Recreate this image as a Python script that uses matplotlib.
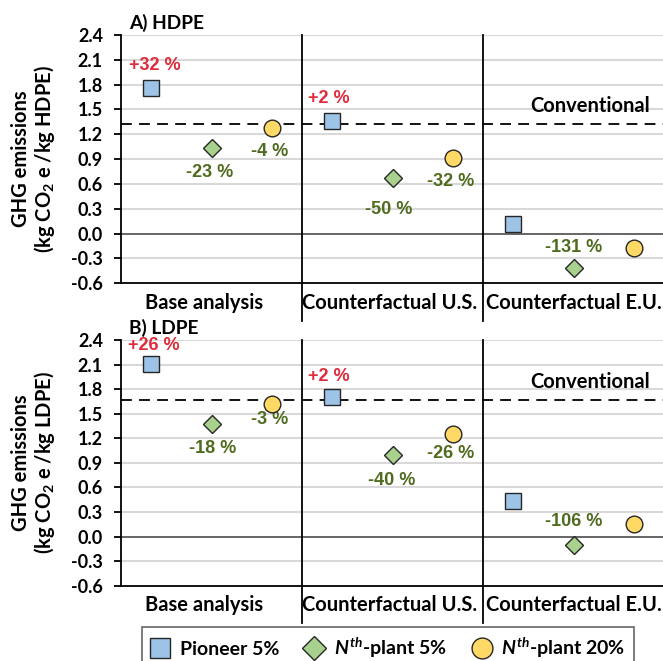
import matplotlib
matplotlib.use('Agg')
import matplotlib.pyplot as plt
from matplotlib.lines import Line2D

# --- données ---
scenarios = ['Base analysis', 'Counterfactual U.S.', 'Counterfactual E.U.']
series_names = ['Pioneer 5%', r'$\mathit{N}^{\mathit{th}}$-plant 5%', r'$\mathit{N}^{\mathit{th}}$-plant 20%']

hdpe_conv = 1.33
hdpe_pioneer = [1.76, 1.36, 0.12]
hdpe_nth5 = [1.03, 0.67, -0.41]
hdpe_nth20 = [1.28, 0.91, -0.17]
hdpe_pct = [['+32 %', '-23 %', '-4 %'],
            ['+2 %', '-50 %', '-32 %'],
            ['', '-131 %', '']]

ldpe_conv = 1.67
ldpe_pioneer = [2.11, 1.70, 0.44]
ldpe_nth5 = [1.37, 1.00, -0.10]
ldpe_nth20 = [1.62, 1.25, 0.15]
ldpe_pct = [['+26 %', '-18 %', '-3 %'],
            ['+2 %', '-40 %', '-26 %'],
            ['', '-106 %', '']]

yticks = [-0.6, -0.3, 0.0, 0.3, 0.6, 0.9, 1.2, 1.5, 1.8, 2.1, 2.4]

# --- style ---
plt.rcParams['mathtext.fontset'] = 'custom'
plt.rcParams['mathtext.rm'] = 'Lato:bold'
plt.rcParams['mathtext.it'] = 'Lato:bold:italic'
plt.rcParams['mathtext.default'] = 'rm'

LABEL_FONT = 'Lato'
NUM_FONT = 'Liberation Sans'
RED = '#E02B3C'
GREEN = '#4F6B1E'
markers = [('s', '#9DC3E6', 11), ('D', '#A9D18E', 9), ('o', '#FFD966', 12)]

# décalages des étiquettes (px) par panneau : [scénario][série] -> (dx, dy vers le bas)
hdpe_off = [[(4, -22), (-2, 24), (-2, 24)],
            [(-3, -23), (-4, 31), (-2, 23)],
            [(0, 0), (0, -20), (0, 0)]]
ldpe_off = [[(3, -18), (1, 24), (-2, 16)],
            [(-3, -21), (-1, 26), (-2, 19)],
            [(0, 0), (0, -23), (0, 0)]]

fig = plt.figure(figsize=(6.63, 6.61), dpi=100)
W, H = 663, 661


def make_panel(top_px, bot_px, title, conv, pioneer, nth5, nth20, pct, offs, unit):
    ax = fig.add_axes([121 / W, 1 - bot_px / H, 543 / W, (bot_px - top_px) / H])
    ax.set_xlim(-0.5, 8.5)
    ax.set_ylim(-0.6, 2.4)
    ax.set_yticks(yticks)
    ax.set_yticklabels([f'{t:.1f}' for t in yticks], fontweight='bold', fontsize=13,
                       fontfamily=LABEL_FONT)
    ax.set_xticks([])
    for t in yticks:
        if t not in (0.0, -0.6):
            ax.axhline(t, color='#D9D9D9', lw=1.5, zorder=0)
    ax.axhline(0.0, color='#595959', lw=1.3, zorder=1)
    ax.axhline(conv, color='black', lw=1.3, ls=(0, (6, 4)), zorder=2)
    for s in ['top', 'right']:
        ax.spines[s].set_visible(False)
    ax.spines['left'].set_linewidth(1.3)
    ax.spines['bottom'].set_linewidth(1.3)
    ax.tick_params(axis='y', length=5, width=1.3, pad=8)

    # séparateurs des scénarios
    for xd in [2.5, 5.5]:
        ax.plot([xd, xd], [1.0, -0.15], transform=ax.get_xaxis_transform(),
                color='black', lw=1.3, clip_on=False, zorder=3)

    data = [pioneer, nth5, nth20]
    for k, (vals, (m, c, ms)) in enumerate(zip(data, markers)):
        xs = [3 * i + k for i in range(3)]
        ax.plot(xs, vals, ls='none', marker=m, markersize=ms, markerfacecolor=c,
                markeredgecolor='#262626', markeredgewidth=1.0, zorder=5, clip_on=False)
        for i in range(3):
            txt = pct[i][k]
            if not txt:
                continue
            dx, dy = offs[i][k]
            ax.annotate(txt, (3 * i + k, vals[i]), xytext=(dx * 0.72, -dy * 0.72),
                        textcoords='offset points', ha='center', va='center',
                        fontsize=13, fontweight='bold', fontfamily=NUM_FONT,
                        color=RED if txt.startswith('+') else GREEN)

    ax.annotate('Conventional', (7.27, conv), xytext=(0, 13), textcoords='offset points',
                ha='center', va='center', fontsize=14.5, fontweight='bold',
                fontfamily=LABEL_FONT)

    for xc, name in zip([0.88, 3.95, 7.0], scenarios):
        ax.text(xc, -0.08, name, transform=ax.get_xaxis_transform(), ha='center',
                va='center', fontsize=14.5, fontweight='bold', fontfamily=LABEL_FONT)

    fig.text(129 / W, 1 - (top_px - 12) / H, title, ha='left', va='center', fontsize=13.8,
             fontweight='bold', fontfamily=LABEL_FONT)
    fig.text(34 / W, 1 - (top_px + bot_px) / 2 / H,
             'GHG emissions\n(kg CO$_2$ e /kg ' + unit + ')', rotation=90, ha='center',
             va='center', multialignment='center', fontsize=14.5, fontweight='bold',
             fontfamily=LABEL_FONT, linespacing=1.05)
    return ax


make_panel(35, 283.3, 'A) HDPE', hdpe_conv, hdpe_pioneer, hdpe_nth5, hdpe_nth20,
           hdpe_pct, hdpe_off, 'HDPE')
make_panel(340, 585.7, 'B) LDPE', ldpe_conv, ldpe_pioneer, ldpe_nth5, ldpe_nth20,
           ldpe_pct, ldpe_off, 'LDPE')

# --- légende ---
handles = [Line2D([], [], ls='none', marker=m, markersize=ms + 3, markerfacecolor=c,
                  markeredgecolor='#262626', markeredgewidth=1.0)
           for (m, c, ms) in markers]
leg = fig.legend(handles, series_names, loc='upper left',
                 bbox_to_anchor=(142 / W, 1 - 627 / H), ncol=3, frameon=True,
                 fancybox=False, edgecolor='#404040', handletextpad=0.5,
                 columnspacing=1.3, handlelength=1.0, borderpad=0.45,
                 borderaxespad=0.0,
                 prop={'family': LABEL_FONT, 'weight': 'bold', 'size': 14})
leg.get_frame().set_linewidth(1.2)

fig.savefig('out.png', dpi=100)
